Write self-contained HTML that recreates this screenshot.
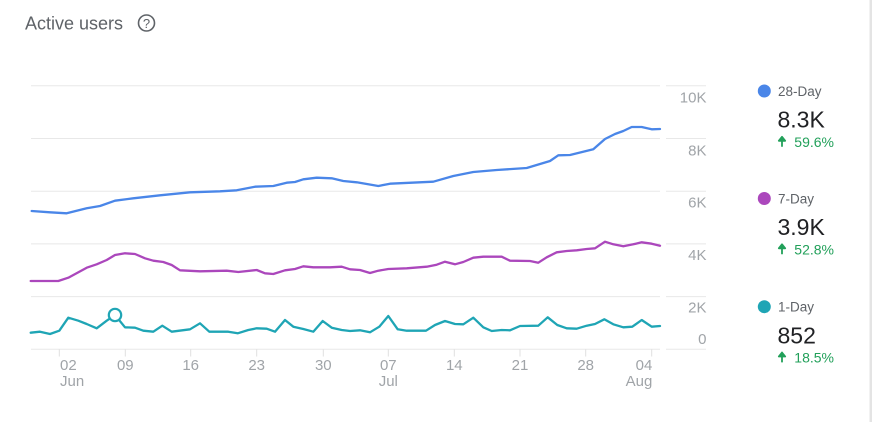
<!DOCTYPE html>
<html>
<head>
<meta charset="utf-8">
<style>
  html,body{margin:0;padding:0;background:#fff;}
  body{width:875px;height:422px;overflow:hidden;}
  svg{display:block;font-family:"Liberation Sans",Arial,sans-serif;}
</style>
</head>
<body>
<svg width="875" height="422" viewBox="0 0 875 422" xmlns="http://www.w3.org/2000/svg">
  <rect x="0" y="0" width="875" height="422" fill="#fff"/>
  <!-- right border -->
  <rect x="869.5" y="0" width="2.5" height="422" fill="#e4e4e4"/>

  <!-- title -->
  <text x="25" y="29.3" font-size="18" fill="#5f6368">Active users</text>
  <circle cx="146.5" cy="23" r="8" fill="none" stroke="#5f6368" stroke-width="1.6"/>
  <text x="146.5" y="27.8" font-size="13" fill="#5f6368" text-anchor="middle">?</text>

  <!-- gridlines -->
  <g stroke="#e8e8e8" stroke-width="1">
    <line x1="31" y1="85.8" x2="660" y2="85.8"/>
    <line x1="31" y1="138.5" x2="660" y2="138.5"/>
    <line x1="31" y1="191.2" x2="660" y2="191.2"/>
    <line x1="31" y1="243.9" x2="660" y2="243.9"/>
    <line x1="31" y1="296.6" x2="660" y2="296.6"/>
    <line x1="31" y1="349.3" x2="660" y2="349.3"/>
    <line x1="666" y1="85.8" x2="706" y2="85.8"/>
    <line x1="666" y1="138.5" x2="706" y2="138.5"/>
    <line x1="666" y1="191.2" x2="706" y2="191.2"/>
    <line x1="666" y1="243.9" x2="706" y2="243.9"/>
    <line x1="666" y1="296.6" x2="706" y2="296.6"/>
    <line x1="666" y1="349.3" x2="706" y2="349.3"/>
  </g>
  <!-- tick marks -->
  <g stroke="#e0e0e0" stroke-width="1">
    <line x1="59.3" y1="349.3" x2="59.3" y2="356.5"/>
    <line x1="125.3" y1="349.3" x2="125.3" y2="356.5"/>
    <line x1="190.7" y1="349.3" x2="190.7" y2="356.5"/>
    <line x1="256.7" y1="349.3" x2="256.7" y2="356.5"/>
    <line x1="323.3" y1="349.3" x2="323.3" y2="356.5"/>
    <line x1="388.3" y1="349.3" x2="388.3" y2="356.5"/>
    <line x1="454.3" y1="349.3" x2="454.3" y2="356.5"/>
    <line x1="520" y1="349.3" x2="520" y2="356.5"/>
    <line x1="585.7" y1="349.3" x2="585.7" y2="356.5"/>
    <line x1="651.7" y1="349.3" x2="651.7" y2="356.5"/>
  </g>

  <!-- y labels -->
  <g font-size="15" fill="#a0a4a8" text-anchor="end">
    <text x="706.5" y="102.3">10K</text>
    <text x="706.5" y="155.7">8K</text>
    <text x="706.5" y="207.7">6K</text>
    <text x="706.5" y="260">4K</text>
    <text x="706.5" y="312.7">2K</text>
    <text x="706.5" y="344">0</text>
  </g>

  <!-- x labels -->
  <g font-size="15" fill="#a0a4a8">
    <text x="60" y="370">02</text>
    <text x="60" y="386">Jun</text>
    <text x="125.3" y="370" text-anchor="middle">09</text>
    <text x="190.7" y="370" text-anchor="middle">16</text>
    <text x="256.7" y="370" text-anchor="middle">23</text>
    <text x="323.3" y="370" text-anchor="middle">30</text>
    <text x="388.3" y="370" text-anchor="middle">07</text>
    <text x="388.3" y="386" text-anchor="middle">Jul</text>
    <text x="454.3" y="370" text-anchor="middle">14</text>
    <text x="520" y="370" text-anchor="middle">21</text>
    <text x="585.7" y="370" text-anchor="middle">28</text>
    <text x="652.3" y="370" text-anchor="end">04</text>
    <text x="652.3" y="386" text-anchor="end">Aug</text>
  </g>

  <!-- series -->
  <g fill="none" stroke-width="2.3" stroke-linejoin="round" stroke-linecap="round">
    <polyline stroke="#4a86e8" points="31.7,211 50,212.3 66.7,213.3 86.7,208.3 100,206 115,200.7 133.3,198.3 160,195.3 190,192.3 220,191.3 236.7,190.3 255,186.7 273.3,186 286.7,182.7 295,182 303.3,179.3 316.7,177.7 331.7,178.3 343.3,181 356.7,182.3 378.3,186 390,183.7 433.3,181.7 453.3,176 473.3,172 496.7,170 526.7,168 540,164 550,161 558.3,155.3 570,155 593.3,149.3 605,139 615,134 623.3,131 631.7,127 641.7,127 651.7,129.3 660,129"/>
    <polyline stroke="#ab47bc" points="30.7,281 58.3,281 68.3,277.7 86.7,267.7 96.7,264.3 106.7,260 115,255 125,253.3 135,254 145,258.3 153.3,260.7 163.3,262 171.7,265 180,270.3 200,271.3 226.7,270.7 238.3,272 256.7,270 265,273.3 273.3,274 285,270.3 295,269 303.3,266.3 313.3,267.3 330,267.3 341.7,266.7 350,269.3 360,270 370,273 378.3,270.7 388.3,269 406.7,268.3 426.7,266.7 436.7,264.7 445,261.7 455,264.3 463.3,262 473.3,257.7 483.3,256.7 501.7,256.7 510,260.7 530,261 538.3,262.7 546.7,257.3 556.7,252.3 566.7,251 576.7,250.3 586.7,249 595,248.3 605,241.7 613.3,244.3 623.3,246.3 633.3,244.3 641.7,242.3 651.7,243.7 660,245.7"/>
    <polyline stroke="#1fa5b5" points="30.7,332.7 40,331.7 50,334 59.3,330.7 68.3,317.7 78.3,320.7 86.7,324 96.7,328.3 106.7,320.7 115,315 125,327.3 135,327.7 143.3,330.7 153.3,331.7 162.3,325.7 171.7,331.7 190,329.3 200,323.3 209.3,331.7 228.3,331.7 237.7,333.3 248.3,330 256.7,328.3 266.7,328.7 275,331.7 285,320 293.3,326.7 303.3,329 313.3,331.7 322.7,321 331.7,327.7 341.7,330 350,331 360,330.3 370,332.3 379.3,326.7 388.3,316 397.7,329.3 406.7,330.7 426,330.7 435,325 445,321 455,324 463.3,324.3 473.3,317.7 483.3,327.3 491.7,331 501.7,330 510,330.3 520,326 538.3,325.7 547.7,317.3 557.3,325 566.7,328.3 576.7,328.7 586.7,325.7 595,324 604.3,319.3 613.3,324.3 623.3,327.3 632.3,326.7 641.7,320 651.7,326.7 660,326"/>
  </g>
  <circle cx="115" cy="315" r="6.2" fill="#fff" stroke="#1fa5b5" stroke-width="2.2"/>

  <!-- legend -->
  <circle cx="764.3" cy="91" r="6.5" fill="#4a86e8"/>
  <text x="778" y="96" font-size="13.5" fill="#5f6368">28-Day</text>
  <text x="777.5" y="127.7" font-size="23" fill="#202124">8.3K</text>
  <path d="M782 146.7 V138 M778.8 140.8 L782 136.8 L785.2 140.8 Z" stroke="#22a05a" stroke-width="1.8" fill="#22a05a" stroke-linejoin="round"/>
  <text x="794.3" y="146.9" font-size="14" fill="#22a05a">59.6%</text>

  <circle cx="764.3" cy="198.5" r="6.5" fill="#ab47bc"/>
  <text x="778" y="203.5" font-size="13.5" fill="#5f6368">7-Day</text>
  <text x="777.5" y="235.2" font-size="23" fill="#202124">3.9K</text>
  <path d="M782 254.2 V245.5 M778.8 248.3 L782 244.3 L785.2 248.3 Z" stroke="#22a05a" stroke-width="1.8" fill="#22a05a" stroke-linejoin="round"/>
  <text x="794.3" y="254.4" font-size="14" fill="#22a05a">52.8%</text>

  <circle cx="764.3" cy="306.7" r="6.5" fill="#1fa5b5"/>
  <text x="778" y="311.7" font-size="13.5" fill="#5f6368">1-Day</text>
  <text x="777.5" y="343.5" font-size="23" fill="#202124">852</text>
  <path d="M782 362.4 V353.7 M778.8 356.5 L782 352.5 L785.2 356.5 Z" stroke="#22a05a" stroke-width="1.8" fill="#22a05a" stroke-linejoin="round"/>
  <text x="794.3" y="362.6" font-size="14" fill="#22a05a">18.5%</text>
</svg>
</body>
</html>
